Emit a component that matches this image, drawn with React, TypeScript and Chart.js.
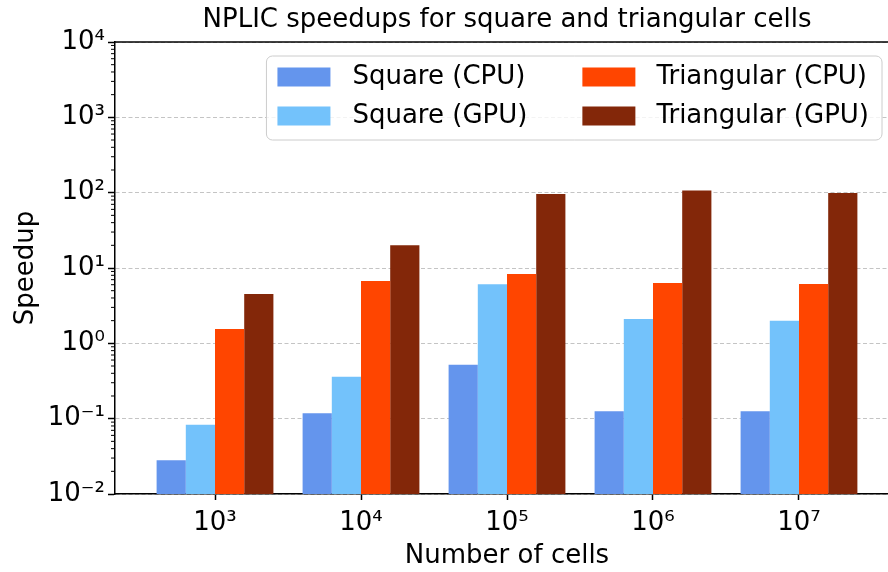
import React, { useEffect, useRef } from "react";
import { Chart, registerables } from "chart.js";

Chart.register(...registerables);

const categories = ["10³", "10⁴", "10⁵", "10⁶", "10⁷"];
const seriesLabels = ["Square (CPU)", "Square (GPU)", "Triangular (CPU)", "Triangular (GPU)"];
const squareCpu = [0.028, 0.118, 0.52, 0.125, 0.125];
const squareGpu = [0.083, 0.36, 6.1, 2.1, 2.0];
const triangularCpu = [1.55, 6.7, 8.3, 6.3, 6.15];
const triangularGpu = [4.5, 20, 96, 107, 99];
const yTickValues = [0.01, 0.1, 1, 10, 100, 1000, 10000];
const yTickLabels = ["10⁻²", "10⁻¹", "10⁰", "10¹", "10²", "10³", "10⁴"];
const seriesColors = ["#6495ED", "#73C2FB", "#FF4500", "#832709"];

const FONT = '"DejaVu Sans", sans-serif';

const extrasPlugin = {
  id: "extras",
  afterDraw(chart: any) {
    const { ctx, chartArea } = chart;
    const yScale = chart.scales.y;
    ctx.save();
    // top spine
    ctx.strokeStyle = "#000";
    ctx.lineWidth = 1.5;
    ctx.beginPath();
    ctx.moveTo(chartArea.left - 0.75, chartArea.top);
    ctx.lineTo(chartArea.right, chartArea.top);
    ctx.stroke();
    // minor log ticks
    ctx.lineWidth = 1;
    for (let k = -2; k < 4; k++) {
      for (let m = 2; m <= 9; m++) {
        const y = yScale.getPixelForValue(m * Math.pow(10, k));
        ctx.beginPath();
        ctx.moveTo(chartArea.left - 4, y);
        ctx.lineTo(chartArea.left, y);
        ctx.stroke();
      }
    }
    // legend
    const ds = chart.data.datasets;
    ctx.font = "26px " + FONT;
    const cols = [[0, 1], [2, 3]];
    const handleW = 53, handleH = 19, gaps = [22, 21], colSpace = 55, padL = 11, padR = 13;
    const colW = cols.map((c) => Math.max(...c.map((i) => ctx.measureText(ds[i].label).width)));
    const boxW = padL + handleW + gaps[0] + colW[0] + colSpace + handleW + gaps[1] + colW[1] + padR;
    const boxH = 84;
    const right = chartArea.right - 17;
    const top = chartArea.top + 14;
    const left = right - boxW;
    ctx.beginPath();
    ctx.roundRect(left, top, boxW, boxH, 6);
    ctx.fillStyle = "rgba(255,255,255,0.8)";
    ctx.fill();
    ctx.strokeStyle = "#cccccc";
    ctx.lineWidth = 1;
    ctx.stroke();
    const rows = [top + 21, top + 60];
    let x = left + padL;
    cols.forEach((c, ci) => {
      c.forEach((i, ri) => {
        const cy = rows[ri];
        ctx.fillStyle = ds[i].backgroundColor;
        ctx.fillRect(x, cy - handleH / 2, handleW, handleH);
        ctx.fillStyle = "#000";
        ctx.textBaseline = "middle";
        ctx.textAlign = "left";
        ctx.fillText(ds[i].label, x + handleW + gaps[ci], cy);
      });
      x += handleW + gaps[ci] + colW[ci] + colSpace;
    });
    ctx.restore();
  },
};

export default function App() {
  const ref = useRef<HTMLCanvasElement>(null);
  useEffect(() => {
    Chart.defaults.font.family = FONT;
    Chart.defaults.font.size = 26;
    Chart.defaults.color = "#000";
    const series = [squareCpu, squareGpu, triangularCpu, triangularGpu];
    const chart = new Chart(ref.current as HTMLCanvasElement, {
      type: "bar",
      data: {
        datasets: series.map((vals, si) => ({
          label: seriesLabels[si],
          data: vals.map((v, i) => ({ x: i, y: v })),
          backgroundColor: seriesColors[si],
          borderWidth: 0,
          categoryPercentage: 0.8,
          barPercentage: 1.0,
        })),
      },
      options: {
        animation: false,
        responsive: false,
        devicePixelRatio: 1,
        layout: { padding: { left: 0, right: 1, top: 0, bottom: 0 } },
        plugins: {
          legend: { display: false },
          tooltip: { enabled: false },
          title: {
            display: true,
            fullSize: false,
            text: "NPLIC speedups for square and triangular cells",
            font: { size: 26, weight: "normal", family: FONT },
            color: "#000",
            padding: { top: 4.7, bottom: 6.1 },
          },
        },
        scales: {
          x: {
            type: "linear",
            offset: false,
            min: -0.685,
            max: 4.685,
            afterBuildTicks: (s: any) => {
              s.ticks = categories.map((_, i) => ({ value: i }));
            },
            afterFit: (s: any) => {
              s.height = 78;
            },
            ticks: {
              autoSkip: false,
              maxRotation: 0,
              padding: 7.7,
              font: { size: 26 },
              color: "#000",
              callback: (v: any) => categories[v] ?? "",
            },
            grid: {
              display: true,
              offset: false,
              drawOnChartArea: false,
              drawTicks: true,
              tickLength: 6,
              tickColor: "#000",
              tickWidth: 1.5,
            },
            border: { display: true, color: "#000", width: 1.5 },
            title: {
              display: true,
              text: "Number of cells",
              font: { size: 26 },
              color: "#000",
              padding: { top: 0, bottom: 0 },
            },
          },
          y: {
            type: "logarithmic",
            min: 0.01,
            max: 10000,
            afterBuildTicks: (s: any) => {
              s.ticks = yTickValues.map((v) => ({ value: v, major: true }));
            },
            afterFit: (s: any) => {
              s.width = 115;
            },
            ticks: {
              autoSkip: false,
              padding: 3,
              font: { size: 26 },
              color: "#000",
              callback: (_v: any, i: number) => yTickLabels[i] ?? "",
            },
            grid: {
              display: true,
              color: "#c4c4c4",
              lineWidth: 1,
              drawTicks: true,
              tickLength: 7,
              tickColor: "#000",
              tickWidth: 1.5,
            },
            border: { display: true, color: "#000", width: 1.5, dash: [4, 2.5] },
            title: {
              display: true,
              text: "Speedup",
              font: { size: 26 },
              color: "#000",
              padding: { top: 10.4, bottom: 0 },
            },
          },
        },
      },
      plugins: [extrasPlugin],
    } as any);
    return () => chart.destroy();
  }, []);
  return (
    <div
      style={{
        position: "absolute",
        left: 0,
        top: 0,
        width: 888,
        height: 572,
        overflow: "hidden",
        background: "#fff",
      }}
    >
      <canvas ref={ref} width={900} height={572} style={{ display: "block", width: 900, height: 572 }} />
    </div>
  );
}
